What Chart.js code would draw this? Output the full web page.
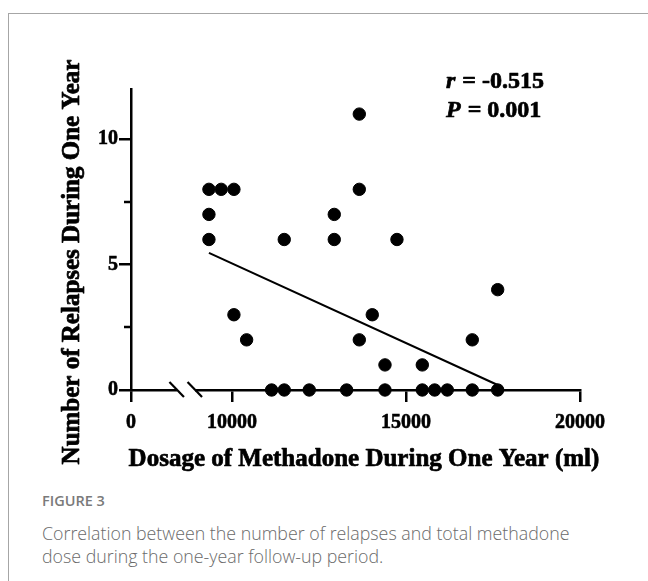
<!DOCTYPE html>
<html lang="en">
<head>
    <meta charset="UTF-8">
    <title>Figure 3 - Relapses vs Methadone dose</title>
    <script src="https://cdn.jsdelivr.net/npm/chart.js"></script>
    <style>
        html, body { margin: 0; padding: 0; background: #fff; }
        body { width: 648px; height: 581px; position: relative; overflow: hidden; }
        .frame {
            position: absolute; left: 8px; top: 13px; width: 700px; height: 700px;
            border-top: 1px solid #a6a6a6; border-left: 1px solid #a6a6a6;
        }
        #chart-wrap { position: absolute; left: 0; top: 0; width: 648px; height: 480px; }
        .fig-label {
            position: absolute; left: 42px; top: 491px;
            font-family: 'Open Sans', sans-serif; font-size: 14.5px; font-weight: 600; color: #7a7a7a;
        }
        .fig-caption {
            position: absolute; left: 42px; top: 522px; width: 570px;
            font-family: 'Open Sans', sans-serif; font-size: 17.8px; font-weight: 300; color: #6a6a6a;
            line-height: 23px;
        }
    </style>
</head>
<body>
    <div class="frame"></div>
    <div id="chart-wrap"><canvas id="scatter"></canvas></div>
    <div class="fig-label">FIGURE 3</div>
    <div class="fig-caption">Correlation between the number of relapses and total methadone<br>dose during the one-year follow-up period.</div>

    <script>
        // Values (ml per year, relapses)
        const doseMl = [9339, 9692, 10057, 9339, 9339, 10057, 10422, 11503, 12940, 12940,
                        13659, 13659, 13659, 14032, 14741, 14397, 15469, 16905, 17635,
                        11140, 11503, 12221, 13296, 14397, 15469, 15824, 16187, 16905, 17635];
        const relapses = [8, 8, 8, 7, 6, 3, 2, 6, 7, 6,
                          11, 8, 2, 3, 6, 1, 1, 2, 4,
                          0, 0, 0, 0, 0, 0, 0, 0, 0, 0];
        // regression line end points as drawn
        const fitDose = [9339, 17635];
        const fitRelapses = [5.47, 0.2];

        const xTicks = [7100, 10000, 15000, 20000];
        const xTickLabels = ['0', '10000', '15000', '20000'];
        const yTicks = [0, 2.5, 5, 7.5, 10];
        const axisBreak = [8420, 8940];

        const xTitle = 'Dosage of Methadone During One Year (ml)';
        const yTitle = 'Number of Relapses During One Year';
        const statR = '-0.515';
        const statP = '0.001';

        const serif = "'Liberation Serif', 'Times New Roman', serif";

        const points = doseMl.map((x, i) => ({ x: x, y: relapses[i] }));
        const fitLine = fitDose.map((x, i) => ({ x: x, y: fitRelapses[i] }));

        // heavier text, the source figure is very bold
        function boldText(c, txt, x, y) {
            c.strokeText(txt, x, y);
            c.fillText(txt, x, y);
        }

        // axis break, minor ticks, titles and the r / P note
        const extras = {
            id: 'extras',
            afterDraw(chart) {
                const c = chart.ctx;
                const xs = chart.scales.x, ys = chart.scales.y;
                const y0 = ys.getPixelForValue(0);

                c.save();
                // minor y ticks
                c.strokeStyle = '#000';
                c.lineWidth = 2.5;
                yTicks.forEach(v => {
                    if (v % 5 !== 0) {
                        const py = Math.round(ys.getPixelForValue(v));
                        c.beginPath();
                        c.moveTo(chart.chartArea.left, py);
                        c.lineTo(chart.chartArea.left - 7, py);
                        c.stroke();
                    }
                });

                // axis break
                const b1 = xs.getPixelForValue(axisBreak[0]);
                const b2 = xs.getPixelForValue(axisBreak[1]);
                c.fillStyle = '#fff';
                c.fillRect(b1, y0 - 3, b2 - b1, 6);
                c.lineWidth = 2.2;
                [b1, b2].forEach(bx => {
                    c.beginPath();
                    c.moveTo(bx - 7.5, y0 - 8);
                    c.lineTo(bx + 7, y0 + 7);
                    c.stroke();
                });

                // axis titles
                c.fillStyle = '#000';
                c.lineWidth = 0.7;
                c.lineJoin = 'round';
                c.font = 'bold 25px ' + serif;
                c.textAlign = 'center';
                c.textBaseline = 'middle';
                boldText(c, xTitle, 364, 460);

                c.save();
                c.translate(73, 262);
                c.rotate(-Math.PI / 2);
                boldText(c, yTitle, 0, 0);
                c.restore();

                // stats note
                c.textAlign = 'left';
                const note = (sym, val, x, y) => {
                    c.font = 'italic bold 24px ' + serif;
                    boldText(c, sym, x, y);
                    let w = c.measureText(sym).width;
                    c.font = 'bold 24px ' + serif;
                    boldText(c, ' = ' + val, x + w + 1, y);
                };
                note('r', statR, 446, 82);
                note('P', statP, 446, 111);
                c.restore();
            }
        };

        const tickFont = { family: serif, size: 20, weight: 'bold' };

        new Chart(document.getElementById('scatter'), {
            type: 'scatter',
            data: {
                datasets: [
                    {
                        data: points,
                        backgroundColor: '#000',
                        borderColor: '#000',
                        pointRadius: 6.2,
                        pointHoverRadius: 6.2,
                        clip: false
                    },
                    {
                        type: 'line',
                        data: fitLine,
                        borderColor: '#000',
                        borderWidth: 2,
                        pointRadius: 0,
                        fill: false,
                        clip: false
                    }
                ]
            },
            options: {
                responsive: true,
                maintainAspectRatio: false,
                animation: false,
                layout: { padding: { left: 0, top: 89, right: 68, bottom: 50 } },
                plugins: { legend: { display: false }, tooltip: { enabled: false } },
                scales: {
                    x: {
                        type: 'linear',
                        min: 7100,
                        max: 20000,
                        afterBuildTicks: s => { s.ticks = xTicks.map(v => ({ value: v })); },
                        afterFit: s => { s.height = 40; },
                        ticks: {
                            callback: (v, i) => xTickLabels[i],
                            color: '#000',
                            font: tickFont,
                            textStrokeColor: '#000',
                            textStrokeWidth: 0.6,
                            padding: 9,
                            maxRotation: 0,
                            autoSkip: false
                        },
                        grid: { drawOnChartArea: false, tickLength: 12, color: '#000', lineWidth: 2.5 },
                        border: { color: '#000', width: 2.5 }
                    },
                    y: {
                        min: 0,
                        max: 12,
                        afterBuildTicks: s => { s.ticks = yTicks.map(v => ({ value: v })); },
                        afterFit: s => { s.width = 131; },
                        ticks: {
                            callback: v => (v % 5 === 0 ? String(v) : ''),
                            color: '#000',
                            font: tickFont,
                            textStrokeColor: '#000',
                            textStrokeWidth: 0.6,
                            padding: 1
                        },
                        grid: {
                            drawOnChartArea: false,
                            tickLength: 12,
                            lineWidth: 2.5,
                            tickColor: c => (c.tick && c.tick.value % 5 === 0 ? '#000' : 'rgba(0,0,0,0)')
                        },
                        border: { color: '#000', width: 2.5 }
                    }
                }
            },
            plugins: [extras]
        });
    </script>
</body>
</html>
